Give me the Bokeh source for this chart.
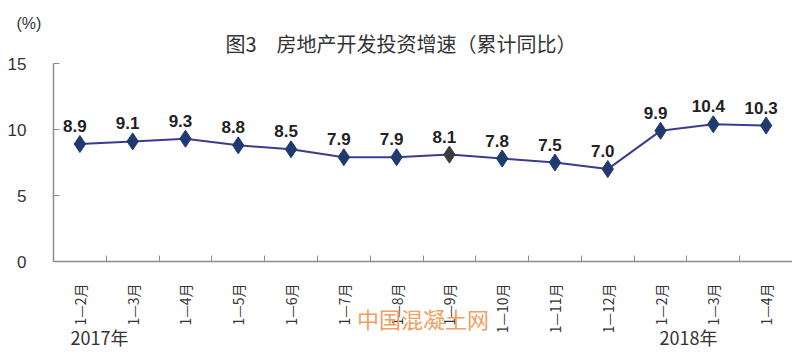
from bokeh.plotting import figure
from bokeh.models import (ColumnDataSource, Range1d, FixedTicker, Title,
                          LinearAxis)
from bokeh.embed import file_html
from bokeh.resources import INLINE
from bokeh.core.properties import value
import math

# ---- data ----
periods = ["1—2月", "1—3月", "1—4月", "1—5月", "1—6月", "1—7月", "1—8月",
           "1—9月", "1—10月", "1—11月", "1—12月", "1—2月", "1—3月", "1—4月"]
growth = [8.9, 9.1, 9.3, 8.8, 8.5, 7.9, 7.9, 8.1, 7.8, 7.5, 7.0, 9.9, 10.4, 10.3]
year_labels = ["2017年", "2018年"]
y_ticks = [0, 5, 10, 15]
title_text = "图3　房地产开发投资增速（累计同比）"
unit_text = "(%)"
watermark = "中国混凝土网"

n = len(growth)
xs = [i + 0.5 for i in range(n)]
NAVY = "#1f3a6e"
GRAY = "#3d3d3d"
TXT = "#333333"
AX = "#8c8c8c"
colors = [NAVY] * n
colors[7] = GRAY

src = ColumnDataSource(dict(x=xs, y=growth, c=colors,
                            lab=[f"{v:.1f}" for v in growth]))

p = figure(width=792, height=352, output_backend="svg", toolbar_location=None,
           x_range=Range1d(0, n), y_range=Range1d(0, 15),
           min_border_left=53, min_border_right=0, min_border_top=63,
           min_border_bottom=91)
p.outline_line_color = None
p.grid.visible = False
p.background_fill_color = "white"

# ---- category axis (bottom) ----
xa = p.xaxis[0]
xa.ticker = FixedTicker(ticks=xs, minor_ticks=list(range(1, n)))
xa.major_label_overrides = {x: lab for x, lab in zip(xs, periods)}
xa.major_label_orientation = math.pi / 2
xa.major_tick_line_color = None
xa.minor_tick_in = 6
xa.minor_tick_out = 0
xa.minor_tick_line_color = AX
xa.axis_line_color = AX
xa.axis_line_width = 1.5
xa.major_label_standoff = 16
xa.major_label_text_font = "Noto Sans CJK SC"
xa.major_label_text_font_size = "14px"
xa.major_label_text_color = TXT
# watermark carried as the axis label, pulled up into the label band
xa.axis_label = watermark
xa.axis_label_text_font = "Noto Sans CJK SC"
xa.axis_label_text_font_size = "22px"
xa.axis_label_text_font_style = "normal"
xa.axis_label_text_color = "#f0a060"
xa.axis_label_standoff = -34

# ---- year axis (second row below) ----
yr_pos = [0.87, 12.03]
yax = LinearAxis(ticker=FixedTicker(ticks=yr_pos, minor_ticks=[]),
                 major_label_overrides={x: t for x, t in zip(yr_pos, year_labels)})
yax.axis_line_color = None
yax.major_tick_line_color = None
yax.minor_tick_line_color = None
yax.major_label_standoff = -20
yax.major_label_text_font = "Noto Sans CJK SC"
yax.major_label_text_font_size = "18px"
yax.major_label_text_color = TXT
p.add_layout(yax, "below")

# ---- y axis ----
ya = p.yaxis[0]
ya.ticker = FixedTicker(ticks=y_ticks)
ya.minor_tick_line_color = None
ya.major_tick_in = 6
ya.major_tick_out = 0
ya.major_tick_line_color = AX
ya.axis_line_color = AX
ya.axis_line_width = 1.5
ya.major_label_standoff = 27
ya.major_label_text_font = "Liberation Sans"
ya.major_label_text_font_size = "17px"
ya.major_label_text_color = TXT

# ---- titles above (unit row outermost, chart title next to the plot) ----
p.title = Title(text=unit_text, align="left", offset=-37, standoff=-21,
                text_font="Liberation Sans", text_font_size="16px",
                text_font_style="normal", text_color=TXT)
p.add_layout(Title(text=title_text, align="left", offset=172, standoff=11,
                   text_font="Noto Sans CJK SC", text_font_size="20px",
                   text_font_style="normal", text_color=TXT), "above")

# ---- series ----
p.line("x", "y", source=src, line_color="#3c3c8f", line_width=2)
p.scatter("x", "y", source=src, marker="diamond", size=17, fill_color="c",
          line_color="c")
p.text("x", "y", text="lab", source=src, x_offset=-5, y_offset=-18,
       text_align="center", text_baseline="middle",
       text_font=value("Liberation Sans"), text_font_style="bold",
       text_font_size="17px", text_color="#222222")

open("out.html", "w").write(file_html(p, INLINE))
